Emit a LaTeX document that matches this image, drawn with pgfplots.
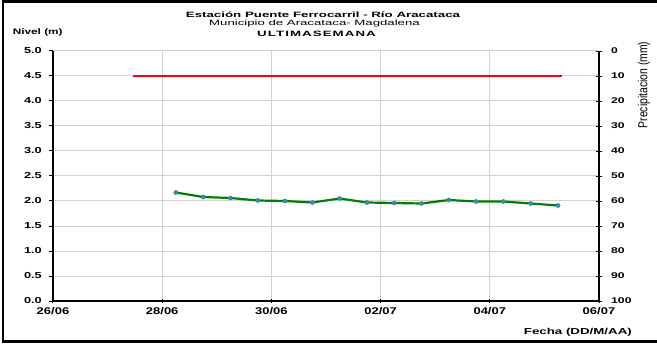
\documentclass[border=0pt]{standalone}
\usepackage{graphicx}
\usepackage{fontspec}
\setmainfont{Liberation Sans}
\usepackage{pgfplots}
\pgfplotsset{compat=1.18}
\definecolor{gridc}{RGB}{210,210,210}
\definecolor{lineg}{RGB}{0,128,0}
\definecolor{markf}{RGB}{40,160,120}
\definecolor{markd}{RGB}{60,120,200}
\begin{document}
\begin{tikzpicture}
\path[use as bounding box] (0pt,0pt) rectangle (657pt,346pt);
% frame
\draw[line width=2.5pt,black] (657pt,344.5pt) -- (3.2pt,344.5pt) -- (3.2pt,4.5pt) -- (657pt,4.5pt);
% titles
\node[inner sep=0pt,yscale=0.58,font=\bfseries\fontsize{13.3}{13.3}\selectfont] at (323pt,331pt) {Estación Puente Ferrocarril - Río Aracataca};
\node[inner sep=0pt,yscale=0.58,font=\fontsize{13.2}{13.2}\selectfont] at (314.5pt,322.5pt) {Municipio de Aracataca- Magdalena};
\node[inner sep=0pt,yscale=0.58,font=\bfseries\fontsize{13.3}{13.3}\selectfont] at (316.5pt,312.5pt) {\addfontfeature{LetterSpace=8}ULTIMASEMANA};
\node[inner sep=0pt,yscale=0.68,font=\bfseries\fontsize{11.8}{11.8}\selectfont] at (37.7pt,314pt) {Nivel (m)};
\node[inner sep=0pt,yscale=0.65,font=\bfseries\fontsize{13.3}{13.3}\selectfont,anchor=east] at (632pt,13.5pt) {Fecha (DD/M/AA)};
\node[inner sep=0pt,font=\fontsize{13}{13}\selectfont] at (644pt,261pt) {\rotatebox{90}{\scalebox{0.8}[1]{Precipitacion (mm)}}};
\begin{axis}[
  at={(53pt,45pt)}, anchor=south west,
  scale only axis, width=546pt, height=250pt,
  xmin=0, xmax=10, ymin=0, ymax=5,
  axis x line*=bottom, axis y line*=left,
  xtick={0,2,4,6,8,10},
  xticklabels={26/06,28/06,30/06,02/07,04/07,06/07},
  ytick={0,0.5,...,5},
  yticklabels={0.0,0.5,1.0,1.5,2.0,2.5,3.0,3.5,4.0,4.5,5.0},
  ymajorgrids, xmajorgrids,
  grid style={gridc,line width=1pt},
  axis line style={black,line width=1.2pt},
  every tick/.style={black,line width=1pt},
  major tick length=4pt,
  ytick align=outside, xtick align=center,
  yticklabel style={inner sep=0pt,yscale=0.68,font=\bfseries\fontsize{12.8}{12.8}\selectfont,xshift=-7pt},
  xticklabel style={inner sep=0pt,yscale=0.75,font=\bfseries\fontsize{13}{13}\selectfont,yshift=-6pt},
  clip=false,
]
\addplot[red,line width=2pt] coordinates {(1.47,4.5) (9.33,4.5)};
\addplot[lineg,line width=2.2pt,mark=*,mark size=2pt,mark options={fill=markf,draw=markd,line width=0.6pt}] coordinates {
(2.25,2.17) (2.75,2.08) (3.25,2.06) (3.75,2.01) (4.25,2.00)
(4.75,1.97) (5.25,2.05) (5.75,1.97) (6.25,1.96) (6.75,1.95)
(7.25,2.02) (7.75,1.99) (8.25,1.99) (8.75,1.95) (9.25,1.91)};
\end{axis}
\begin{axis}[
  at={(53pt,45pt)}, anchor=south west,
  scale only axis, width=546pt, height=250pt,
  xmin=0, xmax=10, ymin=0, ymax=100, y dir=reverse,
  axis x line=none, axis y line*=right,
  ytick={0,10,...,100},
  yticklabels={0,10,20,30,40,50,60,70,80,90,100},
  axis line style={black,line width=1.2pt},
  every tick/.style={black,line width=1pt},
  major tick length=6pt, ytick align=center,
  yticklabel style={inner sep=0pt,yscale=0.68,font=\bfseries\fontsize{12.2}{12.2}\selectfont,xshift=9pt},
]
\end{axis}
\end{tikzpicture}
\end{document}
